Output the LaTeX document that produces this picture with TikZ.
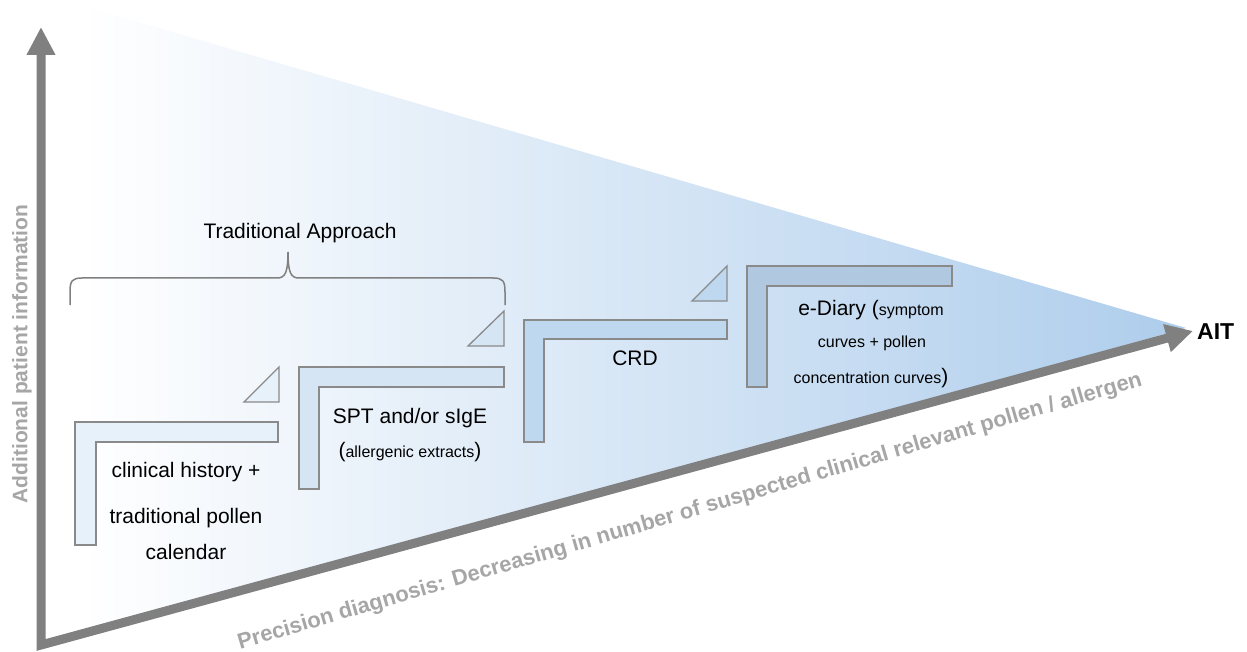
\documentclass[tikz,border=0pt]{standalone}
\usepackage{fontspec}
\setmainfont{Liberation Sans}
\usetikzlibrary{arrows.meta}
\definecolor{axisgray}{RGB}{128,128,128}
\definecolor{labelgray}{RGB}{166,166,166}
\definecolor{edgegray}{RGB}{138,138,138}
\definecolor{fillblue}{RGB}{174,205,236}
\definecolor{lone}{RGB}{231,241,250}
\definecolor{ltwo}{RGB}{213,229,244}
\definecolor{lthree}{RGB}{189,216,239}
\definecolor{lfour}{RGB}{176,200,224}
\tikzset{
  lbox/.style={draw=edgegray, line width=1.3pt, line join=miter},
  axisline/.style={draw=axisgray, line width=9pt, line join=miter,
    {Triangle[length=28pt,width=27pt]}-{Triangle[length=27pt,width=27pt]}},
  big/.style={font=\fontsize{21}{25}\selectfont, text=black, inner sep=0pt},
  small/.style={font=\fontsize{16}{19}\selectfont, text=black, inner sep=0pt},
  axlabel/.style={font=\fontsize{21}{25}\selectfont\bfseries, text=labelgray, inner sep=0pt},
  bracestyle/.style={draw=axisgray, line width=1.5pt}
}
\newcommand{\sm}[1]{{\fontsize{16}{19}\selectfont #1}}
\begin{document}
\begin{tikzpicture}[x=1pt,y=-1pt]
\useasboundingbox (0,0) rectangle (1247,652);
% background wedge
\shade[left color=white, right color=fillblue] (80,5) -- (1186,328) -- (80,636) -- cycle;
% brace
\draw[bracestyle] (70,305) -- (70,292) .. controls (70,281) and (72,278) .. (82,278) -- (277,278)
  .. controls (285,278) and (288,273) .. (288,252)
  .. controls (288,273) and (291,278) .. (299,278) -- (493,278)
  .. controls (503,278) and (505,281) .. (505,292) -- (505,305);
\node[big, anchor=base] (trad) at (300,239) {Traditional Approach};
% L shapes
\filldraw[lbox, fill=lone] (75,422) -- (278,422) -- (278,442) -- (96,442) -- (96,545) -- (75,545) -- cycle;
\filldraw[lbox, fill=ltwo] (299,367) -- (504,367) -- (504,387) -- (319,387) -- (319,489) -- (299,489) -- cycle;
\filldraw[lbox, fill=lthree] (524,320) -- (727,320) -- (727,339) -- (544,339) -- (544,442) -- (524,442) -- cycle;
\filldraw[lbox, fill=lfour] (747,266) -- (952,266) -- (952,286) -- (767,286) -- (767,387) -- (747,387) -- cycle;
% triangles
\filldraw[lbox, fill=lone] (244,402) -- (279,367) -- (279,402) -- cycle;
\filldraw[lbox, fill=ltwo] (468,346) -- (504,311) -- (504,346) -- cycle;
\filldraw[lbox, fill=lthree] (692,301) -- (727,266) -- (727,301) -- cycle;
% texts
\node[big, anchor=base] (c1) at (186,477) {clinical history +};
\node[big, anchor=base] (c2) at (186,523) {traditional pollen};
\node[big, anchor=base] (c3) at (186,559) {calendar};
\node[big, anchor=base] (s1) at (410,423) {SPT and/or sIgE};
\node[big, anchor=base] (s2) at (410,457) {(\sm{allergenic extracts})};
\node[big, anchor=base] (crd) at (635,365) {CRD};
\node[big, anchor=base] (e1) at (871,316) {e-Diary (\sm{symptom}};
\node[small, anchor=base] (e2) at (872,347) {curves + pollen};
\node[big, anchor=base] (e3) at (871,383) {\sm{concentration curves})};
% axes
\coordinate (ytip) at (41,27);
\coordinate (orig) at (41,645);
\coordinate (xtip) at (1193,331);
\draw[axisline] (ytip) -- (orig) -- (xtip);
\node[font=\fontsize{23}{27}\selectfont\bfseries, text=black, inner sep=0pt, anchor=base west] (ait) at (1197,339) {AIT};
\node[axlabel, rotate=90] (ylab) at (22,354) {Additional patient information};
\node[axlabel, font=\fontsize{22}{26}\selectfont\bfseries, rotate=16.3] (xlab) at (690,512) {Precision diagnosis: Decreasing in number of suspected clinical relevant pollen / allergen};
\end{tikzpicture}
\end{document}
